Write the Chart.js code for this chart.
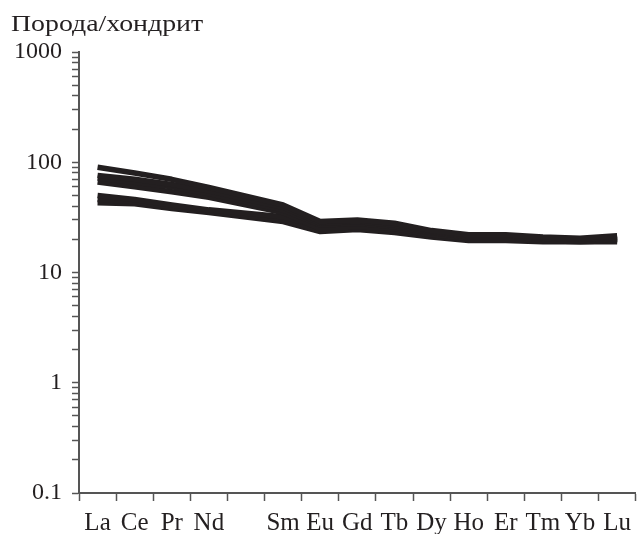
<!DOCTYPE html>
<html>
<head>
<meta charset="utf-8">
<script src="https://cdn.jsdelivr.net/npm/chart.js@4"></script>
<style>
  html, body { margin: 0; padding: 0; background: #fff; }
  #wrap { width: 638px; height: 534px; }
</style>
</head>
<body>
<div id="wrap"><canvas id="ree" width="638" height="534"></canvas></div>
<script>
// REE / chondrite, Pm left empty
var elements = ["La", "Ce", "Pr", "Nd", "", "Sm", "Eu", "Gd", "Tb", "Dy", "Ho", "Er", "Tm", "Yb", "Lu"];

var sample1 = [90, 80, 70, 59, null, 41, 29, 30, 28, 24, 22, 22, 21, 20.5, 21.5];
var sample2 = [76, 70, 63, 55, null, 39, 28, 29, 27, 23.5, 21.5, 21.5, 20.5, 20, 21];
var sample3 = [72, 66, 60, 52, null, 37, 27, 28, 26, 23, 21, 21, 20, 20, 20.5];
var sample4 = [66, 60, 54, 48, null, 35, 25, 26, 25, 22, 20.5, 20.5, 19.5, 19.5, 20];
var sample5 = [50, 46, 41, 37, null, 32, 26, 27, 25, 22, 21, 21, 20, 19.5, 20];
var sample6 = [46, 44, 39, 36, null, 30, 24, 25, 24, 21.5, 20, 20, 19.5, 19, 19.5];
var sample7 = [43, 42, 38, 35, null, 29, 23.5, 24.5, 23, 21, 19.5, 19.5, 19, 19, 19];

var yTicks = [0.1, 0.2, 0.3, 0.4, 0.5, 0.6, 0.7, 0.8, 0.9,
              1, 2, 3, 4, 5, 6, 7, 8, 9,
              10, 20, 30, 40, 50, 60, 70, 80, 90,
              100, 200, 300, 400, 500, 600, 700, 800, 900, 1000];
var yLabels = [0.1, 1, 10, 100, 1000];

var titleText = "Порода/хондрит";
var ink = "#231f20";
var axisColor = "#555555";
var serif = "'Liberation Serif', 'DejaVu Serif', serif";

var samples = [sample1, sample2, sample3, sample4, sample5, sample6, sample7];
var datasets = [];
for (let i = 0; i < samples.length; i++) {
    datasets.push({
        data: samples[i],
        borderColor: ink,
        backgroundColor: ink,
        borderWidth: 5.5,
        pointRadius: 0,
        tension: 0,
        spanGaps: true,
        borderJoinStyle: "round",
        borderCapStyle: "butt"
    });
}

// axis caption drawn top-left (the original type is a bit wide, so stretch it)
var captionPlugin = {
    id: "caption",
    afterDraw: function (chart) {
        var ctx = chart.ctx;
        ctx.save();
        ctx.fillStyle = ink;
        ctx.font = "24px " + serif;
        ctx.textBaseline = "alphabetic";
        ctx.textAlign = "left";
        ctx.translate(11, 31);
        ctx.scale(1.16, 1);
        ctx.fillText(titleText, 0, 0);
        ctx.restore();
    }
};

new Chart(document.getElementById("ree"), {
    type: "line",
    data: { labels: elements, datasets: datasets },
    plugins: [captionPlugin],
    options: {
        responsive: false,
        animation: false,
        layout: { padding: { top: 52, right: 0, left: 0, bottom: 0 } },
        plugins: { legend: { display: false }, tooltip: { enabled: false } },
        scales: {
            x: {
                type: "category",
                offset: true,
                grid: {
                    offset: true,
                    drawOnChartArea: false,
                    drawTicks: true,
                    tickLength: 8,
                    tickWidth: 1.5,
                    tickColor: axisColor
                },
                border: { display: true, color: axisColor, width: 2 },
                ticks: {
                    color: ink,
                    font: { family: serif, size: 25 },
                    padding: 7,
                    maxRotation: 0,
                    autoSkip: false
                },
                afterFit: function (scale) { scale.height = 41; }
            },
            y: {
                type: "logarithmic",
                min: 0.1,
                max: 1000,
                grid: {
                    drawOnChartArea: false,
                    drawTicks: true,
                    tickLength: 7,
                    tickWidth: 1.5,
                    tickColor: axisColor
                },
                border: { display: true, color: axisColor, width: 2 },
                ticks: {
                    color: ink,
                    font: { family: serif, size: 24 },
                    padding: 10,
                    autoSkip: false,
                    callback: function (value) {
                        return yLabels.indexOf(value) >= 0 ? String(value) : "";
                    }
                },
                afterBuildTicks: function (scale) {
                    scale.ticks = yTicks.map(function (v) { return { value: v }; });
                },
                afterFit: function (scale) { scale.width = 79; }
            }
        }
    }
});
</script>
</body>
</html>
